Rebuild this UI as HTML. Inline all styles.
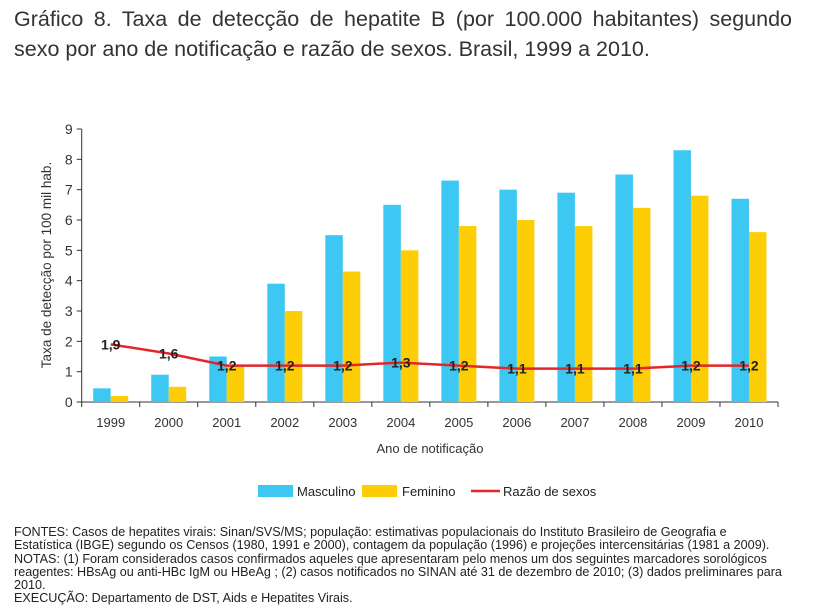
<!DOCTYPE html>
<html><head><meta charset="utf-8">
<style>
body{margin:0;background:#fff;width:836px;height:614px;overflow:hidden;font-family:"Liberation Sans",sans-serif;color:#222}
#title{position:absolute;left:14px;top:4px;width:778px;font-size:21.5px;line-height:30px;text-align:justify;text-align-last:left;color:#333}
#notes{position:absolute;left:14px;top:526px;width:772px;font-size:12.6px;line-height:13.3px;color:#222}
svg{position:absolute;left:0;top:0}
</style></head><body>
<div id="title">Gráfico 8. Taxa de detecção de hepatite B (por 100.000 habitantes) segundo sexo por ano de notificação e razão de sexos. Brasil, 1999 a 2010.</div>
<svg id="chart" width="836" height="614"></svg>
<div id="notes">FONTES: Casos de hepatites virais: Sinan/SVS/MS; população: estimativas populacionais do Instituto Brasileiro de Geografia e Estatística (IBGE) segundo os Censos (1980, 1991 e 2000), contagem da população (1996) e projeções intercensitárias (1981 a 2009).<br>NOTAS: (1) Foram considerados casos confirmados aqueles que apresentaram pelo menos um dos seguintes marcadores sorológicos reagentes: HBsAg ou anti-HBc IgM ou HBeAg ; (2) casos notificados no SINAN até 31 de dezembro de 2010; (3) dados preliminares para 2010.<br>EXECUÇÃO: Departamento de DST, Aids e Hepatites Virais.</div>
<script>
const years=["1999","2000","2001","2002","2003","2004","2005","2006","2007","2008","2009","2010"];
const masculino=[0.45,0.9,1.5,3.9,5.5,6.5,7.3,7.0,6.9,7.5,8.3,6.7];
const feminino=[0.2,0.5,1.2,3.0,4.3,5.0,5.8,6.0,5.8,6.4,6.8,5.6];
const razao=[1.9,1.6,1.2,1.2,1.2,1.3,1.2,1.1,1.1,1.1,1.2,1.2];
const razaoLabels=["1,9","1,6","1,2","1,2","1,2","1,3","1,2","1,1","1,1","1,1","1,2","1,2"];
const yTicks=[0,1,2,3,4,5,6,7,8,9];

const svg=document.getElementById('chart');
const NS='http://www.w3.org/2000/svg';
const X0=81.7,X1=778,Y0=402,Y9=129;
const step=(X1-X0)/years.length;
const y=v=>Y0-(Y0-Y9)*v/9;
const cx=i=>X0+step*(i+0.5);
function mk(t,a,p){const e=document.createElementNS(NS,t);for(const k in a)e.setAttribute(k,a[k]);(p||svg).appendChild(e);return e;}

const ax=mk('g',{});


mk('line',{x1:X0,y1:Y9,x2:X0,y2:Y0,stroke:'#333','stroke-width':1},ax);
mk('line',{x1:X0,y1:Y0,x2:X1,y2:Y0,stroke:'#333','stroke-width':1},ax);
yTicks.forEach(t=>{
  mk('line',{x1:X0-5,y1:y(t),x2:X0,y2:y(t),stroke:'#333'},ax);
  const tx=mk('text',{x:X0-9,y:y(t)+5,'text-anchor':'end','font-size':14,fill:'#333'},ax);
  tx.textContent=t;
  
  
});
for(let i=0;i<=years.length;i++){
  mk('line',{x1:X0+step*i,y1:Y0,x2:X0+step*i,y2:Y0+5,stroke:'#333'},ax);
}
years.forEach((yr,i)=>{
  const tx=mk('text',{x:cx(i),y:Y0+25,'text-anchor':'middle','font-size':13,fill:'#333'},ax);
  tx.textContent=yr;
  
  
});
const yt=mk('text',{x:0,y:0,transform:'translate(51,265) rotate(-90)','text-anchor':'middle','font-size':13.5,fill:'#333'});
yt.textContent='Taxa de detecção por 100 mil hab.';


const xt=mk('text',{x:430,y:453,'text-anchor':'middle','font-size':13,fill:'#333'});
xt.textContent='Ano de notificação';



const bw=17.5;
masculino.forEach((v,i)=>{
  const r=mk('rect',{x:cx(i)-bw,y:y(v),width:bw,height:Y0-y(v),fill:'#3cc8f2'});
  
  
});
feminino.forEach((v,i)=>{
  const r=mk('rect',{x:cx(i),y:y(v),width:bw,height:Y0-y(v),fill:'#fdcd06'});
  
  
});
const pts=razao.map((v,i)=>cx(i)+','+y(v)).join(' ');
const pl=mk('polyline',{points:pts,fill:'none',stroke:'#e3262b','stroke-width':2.5});


razao.forEach((v,i)=>{
  const t=mk('text',{x:cx(i),y:y(v)+5,'text-anchor':'middle','font-size':14,'font-weight':'bold',fill:'#222'});
  t.textContent=razaoLabels[i];
  
  
});

const lg=mk('g',{});


const e1=mk('g',{},lg);


mk('rect',{x:258,y:485,width:35,height:12,fill:'#3cc8f2'},e1);
mk('text',{x:297,y:496,'font-size':13,fill:'#222'},e1).textContent='Masculino';
const e2=mk('g',{},lg);


mk('rect',{x:362,y:485,width:35,height:12,fill:'#fdcd06'},e2);
mk('text',{x:402,y:496,'font-size':13,fill:'#222'},e2).textContent='Feminino';
const e3=mk('g',{},lg);


mk('line',{x1:471,y1:491,x2:500,y2:491,stroke:'#e3262b','stroke-width':2.5},e3);
mk('text',{x:503,y:496,'font-size':13,fill:'#222'},e3).textContent='Razão de sexos';
</script>
</body></html>
